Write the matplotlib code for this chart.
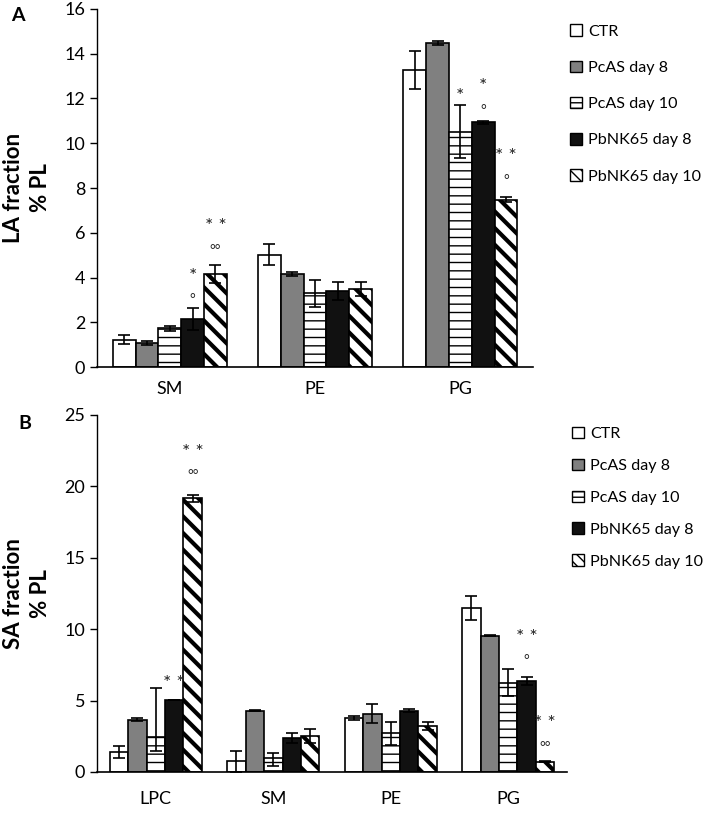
import numpy as np
import matplotlib
matplotlib.use("Agg")
import matplotlib.pyplot as plt
from matplotlib.patches import Patch

plt.rcParams['font.family'] = ['Lato', 'DejaVu Sans']

groups = ['CTR', 'PcAS day 8', 'PcAS day 10', 'PbNK65 day 8', 'PbNK65 day 10']
legend_labels = ['CTR', 'PcAS day 8', 'PcAS day 10', 'PbNK65 day 8', 'PbNK65 day 10']

# panel A: LA fraction
cats_a = ['SM', 'PE', 'PG']
la_vals = [
    [1.22, 5.03, 13.26],   # CTR
    [1.07, 4.15, 14.48],   # PcAS day 8
    [1.74, 3.30, 10.52],   # PcAS day 10
    [2.15, 3.42, 10.93],   # PbNK65 day 8
    [4.16, 3.49, 7.48],    # PbNK65 day 10
]
la_err = [
    [0.20, 0.48, 0.85],
    [0.09, 0.08, 0.08],
    [0.11, 0.60, 1.20],
    [0.48, 0.40, 0.08],
    [0.40, 0.32, 0.10],
]

# panel B: SA fraction
cats_b = ['LPC', 'SM', 'PE', 'PG']
sa_vals = [
    [1.40, 0.75, 3.76, 11.50],
    [3.66, 4.29, 4.08, 9.55],
    [2.47, 1.00, 2.70, 6.25],
    [5.05, 2.40, 4.30, 6.38],
    [19.16, 2.52, 3.22, 0.72],
]
sa_err_lo = [
    [0.40, 0.75, 0.15, 0.85],
    [0.10, 0.05, 0.65, 0.05],
    [1.00, 0.60, 0.80, 0.95],
    [0.00, 0.35, 0.10, 0.30],
    [0.25, 0.50, 0.30, 0.05],
]
sa_err_hi = [
    [0.40, 0.75, 0.15, 0.85],
    [0.10, 0.05, 0.65, 0.05],
    [3.40, 0.30, 0.80, 0.95],
    [0.00, 0.35, 0.10, 0.30],
    [0.25, 0.50, 0.30, 0.05],
]

# significance marks: (category index, group index, text, y)
marks_a = [
    (0, 3, '*', 4.06), (0, 3, '°', 3.06),
    (0, 4, '* *', 6.27), (0, 4, '°°', 5.25),
    (2, 2, '*', 12.07),
    (2, 3, '*', 12.54), (2, 3, '°', 11.5),
    (2, 4, '* *', 9.39), (2, 4, '°', 8.35),
]
marks_b = [
    (0, 3, '* *', 6.22),
    (0, 4, '* *', 22.4), (0, 4, '°°', 20.8),
    (3, 3, '* *', 9.4), (3, 3, '°', 7.84),
    (3, 4, '* *', 3.41), (3, 4, '°°', 1.77),
]

faces = ['white', '#808080', 'white', '#111111', 'white']
hatches = [None, None, '--', None, '\\\\']
hatch_lw = [1.0, 1.0, 1.0, 1.0, 3.0]
width = 0.157


def draw_panel(ax, cats, vals, err_lo, err_hi, marks, ymax, ystep):
    x = np.arange(len(cats))
    for i in range(len(groups)):
        pos = x + (i - 2) * width
        with plt.rc_context({'hatch.linewidth': hatch_lw[i]}):
            ax.bar(pos, vals[i], width, color=faces[i], edgecolor='black',
                   linewidth=1.2, hatch=hatches[i], zorder=2)
        lo = np.array(err_lo[i])
        hi = np.array(err_hi[i])
        ax.errorbar(pos, vals[i], yerr=[lo, hi], fmt='none', ecolor='black',
                    elinewidth=1.2, capsize=4, capthick=1.2, zorder=3)
    for c, g, txt, y in marks:
        xp = c + (g - 2) * width
        size = 14 if '*' in txt else 10
        ax.text(xp, y, txt, ha='center', va='center', fontsize=size, color='#222222')
    ax.set_xlim(-0.5, len(cats) - 0.5)
    ax.set_ylim(0, ymax)
    ax.set_yticks(np.arange(0, ymax + 0.1, ystep))
    ax.set_xticks(x)
    ax.set_xticklabels(cats, fontsize=13)
    ax.tick_params(axis='y', labelsize=13, length=5, width=1, direction='out')
    ax.tick_params(axis='x', length=0)
    for s in ['top', 'right']:
        ax.spines[s].set_visible(False)
    ax.spines['left'].set_linewidth(1.0)
    ax.spines['bottom'].set_linewidth(1.2)


fig = plt.figure(figsize=(7.14, 8.14), dpi=100)

ax1 = fig.add_axes([0.136, 0.549, 0.6106, 0.440])
draw_panel(ax1, cats_a, la_vals, la_err, la_err, marks_a, 16, 2)
ax1.tick_params(axis='x', pad=10)
ax1.set_ylabel('LA fraction\n% PL', fontsize=16, fontweight='bold', labelpad=10,
               linespacing=1.3)

ax2 = fig.add_axes([0.136, 0.0516, 0.658, 0.4386])
draw_panel(ax2, cats_b, sa_vals, sa_err_lo, sa_err_hi, marks_b, 25, 5)
ax2.tick_params(axis='x', pad=14)
ax2.set_ylabel('SA fraction\n% PL', fontsize=16, fontweight='bold', labelpad=10,
               linespacing=1.3)

fig.text(0.025, 0.981, 'A', fontsize=14, fontweight='bold', va='center', ha='center')
fig.text(0.035, 0.480, 'B', fontsize=14, fontweight='bold', va='center', ha='center')


def make_handles():
    hs = []
    for i in range(len(groups)):
        lw = 1.6 if i == 4 else 0.8
        hh = '\\\\\\' if i == 4 else ('---' if i == 2 else None)
        with plt.rc_context({'hatch.linewidth': lw}):
            hs.append(Patch(facecolor=faces[i], edgecolor='black', linewidth=1.0,
                            hatch=hh))
    return hs


fig.legend(make_handles(), legend_labels, loc='upper left',
           bbox_to_anchor=(0.789, 0.978), frameon=False, fontsize=11.6,
           handlelength=0.74, handleheight=0.74, handletextpad=0.38,
           labelspacing=1.35, borderaxespad=0)
fig.legend(make_handles(), legend_labels, loc='upper left',
           bbox_to_anchor=(0.792, 0.4836), frameon=False, fontsize=11.6,
           handlelength=0.74, handleheight=0.74, handletextpad=0.38,
           labelspacing=1.08, borderaxespad=0)

fig.savefig('out.png', dpi=100)
